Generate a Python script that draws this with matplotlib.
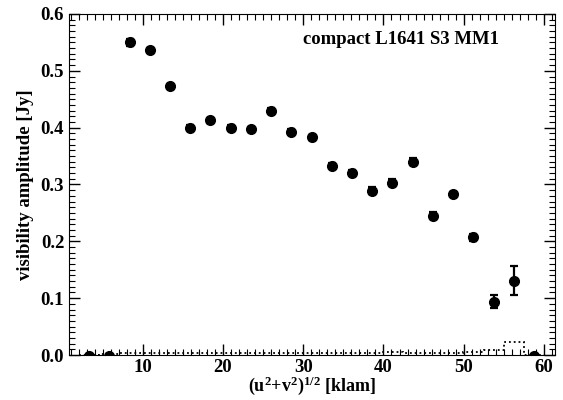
import numpy as np
import matplotlib
matplotlib.use("Agg")
import matplotlib.pyplot as plt
from matplotlib.ticker import MultipleLocator

plt.rcParams['font.family'] = ['Liberation Serif', 'DejaVu Serif']
plt.rcParams['font.weight'] = 'bold'
plt.rcParams['mathtext.fontset'] = 'custom'
plt.rcParams['mathtext.rm'] = 'Liberation Serif:bold'
plt.rcParams['mathtext.it'] = 'Liberation Serif:bold'
plt.rcParams['mathtext.bf'] = 'Liberation Serif:bold'

# uv-distance bin centres [klam]
uvdist = [3.3, 5.8, 8.4, 10.9, 13.4, 15.9, 18.4, 21.0, 23.5, 26.0, 28.5, 31.1,
          33.6, 36.1, 38.6, 41.1, 43.7, 46.2, 48.7, 51.2, 53.8, 56.3, 58.8]
# binned visibility amplitude [Jy]
amp = [-0.002, -0.002, 0.550, 0.537, 0.473, 0.400, 0.413, 0.400, 0.397, 0.430,
       0.393, 0.383, 0.333, 0.321, 0.289, 0.303, 0.340, 0.245, 0.283, 0.207,
       0.094, 0.131, -0.002]
err = [0.004, 0.004, 0.006, 0.004, 0.004, 0.004, 0.004, 0.004, 0.005, 0.005,
       0.004, 0.004, 0.004, 0.004, 0.006, 0.006, 0.006, 0.006, 0.004, 0.006,
       0.012, 0.026, 0.004]
# expected amplitude for zero signal (dotted histogram)
noise = [0.0, 0.001, 0.004, 0.003, 0.003, 0.003, 0.004, 0.003, 0.003, 0.003,
         0.003, 0.003, 0.003, 0.003, 0.004, 0.005, 0.004, 0.003, 0.003, 0.005,
         0.009, 0.022, 0.0]

fig = plt.figure(figsize=(5.63, 4.0), dpi=100)
ax = fig.add_axes([0.1226, 0.1125, 0.8634, 0.8525])

# dotted step histogram
x = np.array(uvdist)
edges = np.concatenate([[x[0] - 1.26], (x[:-1] + x[1:]) / 2, [x[-1] + 1.26]])
ax.stairs(noise, edges, color='black', linestyle=':', linewidth=1.3)

ax.errorbar(uvdist, amp, yerr=err, fmt='o', color='black', markersize=7,
            elinewidth=1.6, capsize=3, capthick=1.6)

ax.set_xlim(0.8, 61.4)
ax.set_ylim(0.0, 0.6)
ax.xaxis.set_major_locator(MultipleLocator(10))
ax.xaxis.set_minor_locator(MultipleLocator(1))
ax.yaxis.set_major_locator(MultipleLocator(0.1))
ax.yaxis.set_minor_locator(MultipleLocator(0.01))
ax.yaxis.set_major_formatter(plt.FuncFormatter(lambda v, p: '%.1f' % v))
ax.tick_params(which='both', direction='in', top=True, right=True, labelsize=13.5)
ax.tick_params(which='major', length=8, width=1)
ax.tick_params(which='minor', length=4, width=0.8)
ax.tick_params(axis='x', pad=3)

ax.set_xlabel('(u$^2$+v$^2$)$^{1/2}$ [klam]', fontsize=13, fontweight='bold',
              labelpad=-1)
ax.set_ylabel('visibility amplitude [Jy]', fontsize=13.5, fontweight='bold',
              labelpad=5)
ax.text(0.885, 0.925, 'compact L1641 S3 MM1', transform=ax.transAxes,
        ha='right', va='center', fontsize=13.5, fontweight='bold')

fig.savefig('out.png', dpi=100)
